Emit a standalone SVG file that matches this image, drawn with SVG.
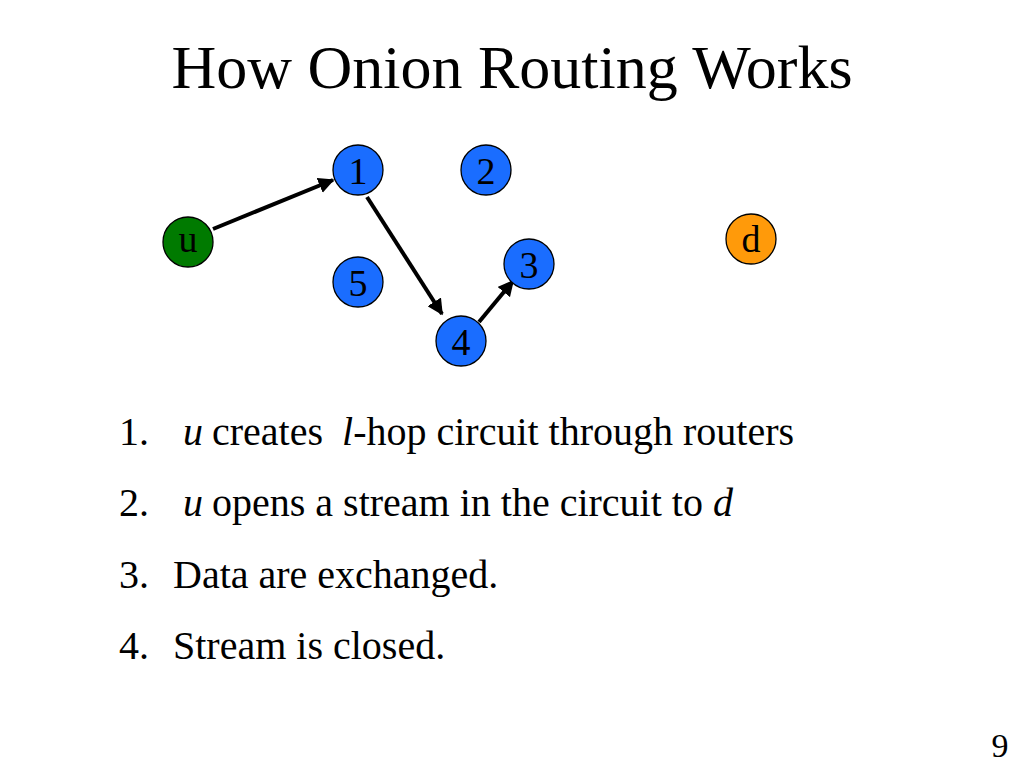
<svg xmlns="http://www.w3.org/2000/svg" width="1024" height="768" viewBox="0 0 1024 768">
<style>
text{font-family:"Liberation Serif","Times New Roman",serif;fill:#000}
.n{stroke:#000;stroke-width:1.3}
.lbl{font-size:38px;text-anchor:middle}
.li{font-size:40px}
.c{stroke:#000;stroke-width:4;fill:none}
</style>
<defs>
<marker id="ah" viewBox="0 0 10 10" refX="9" refY="5" markerWidth="4" markerHeight="4" orient="auto" markerUnits="strokeWidth">
<path d="M0,0 L10,5 L0,10 Z" fill="#000"/>
</marker>
</defs>
<rect width="1024" height="768" fill="#fff"/>
<text x="512" y="88" font-size="62" text-anchor="middle">How Onion Routing Works</text>
<g id="connectors">
<line class="c" x1="213" y1="229" x2="333" y2="180" marker-end="url(#ah)"/>
<line class="c" x1="367" y1="197" x2="442" y2="314" marker-end="url(#ah)"/>
<line class="c" x1="479" y1="322" x2="513" y2="281" marker-end="url(#ah)"/>
</g>
<g id="node-u"><circle class="n" cx="188" cy="242" r="25" fill="#007A00"/><text class="lbl" x="188" y="252">u</text></g>
<g id="node-1"><circle class="n" cx="358" cy="170" r="25" fill="#1A6DFF"/><text class="lbl" x="358" y="184">1</text></g>
<g id="node-2"><circle class="n" cx="486" cy="170" r="25" fill="#1A6DFF"/><text class="lbl" x="486" y="184">2</text></g>
<g id="node-5"><circle class="n" cx="358" cy="282" r="25" fill="#1A6DFF"/><text class="lbl" x="358" y="296">5</text></g>
<g id="node-4"><circle class="n" cx="461" cy="341" r="25" fill="#1A6DFF"/><text class="lbl" x="461" y="355">4</text></g>
<g id="node-3"><circle class="n" cx="529" cy="264" r="25" fill="#1A6DFF"/><text class="lbl" x="529" y="278">3</text></g>
<g id="node-d"><circle class="n" cx="751" cy="239" r="25" fill="#FF9A0A"/><text class="lbl" x="751" y="252">d</text></g>
<text class="li" x="119" y="445">1.<tspan x="183" font-style="italic">u</tspan><tspan x="212">creates</tspan><tspan x="342" font-style="italic">l</tspan><tspan>-hop circuit through routers</tspan></text>
<text class="li" x="119" y="516">2.<tspan x="183" font-style="italic">u</tspan><tspan x="212">opens a stream in the circuit to </tspan><tspan font-style="italic">d</tspan></text>
<text class="li" x="119" y="588">3.<tspan x="173">Data are exchanged.</tspan></text>
<text class="li" x="119" y="659">4.<tspan x="173">Stream is closed.</tspan></text>
<text x="1000" y="757" font-size="34" text-anchor="middle">9</text>
</svg>
